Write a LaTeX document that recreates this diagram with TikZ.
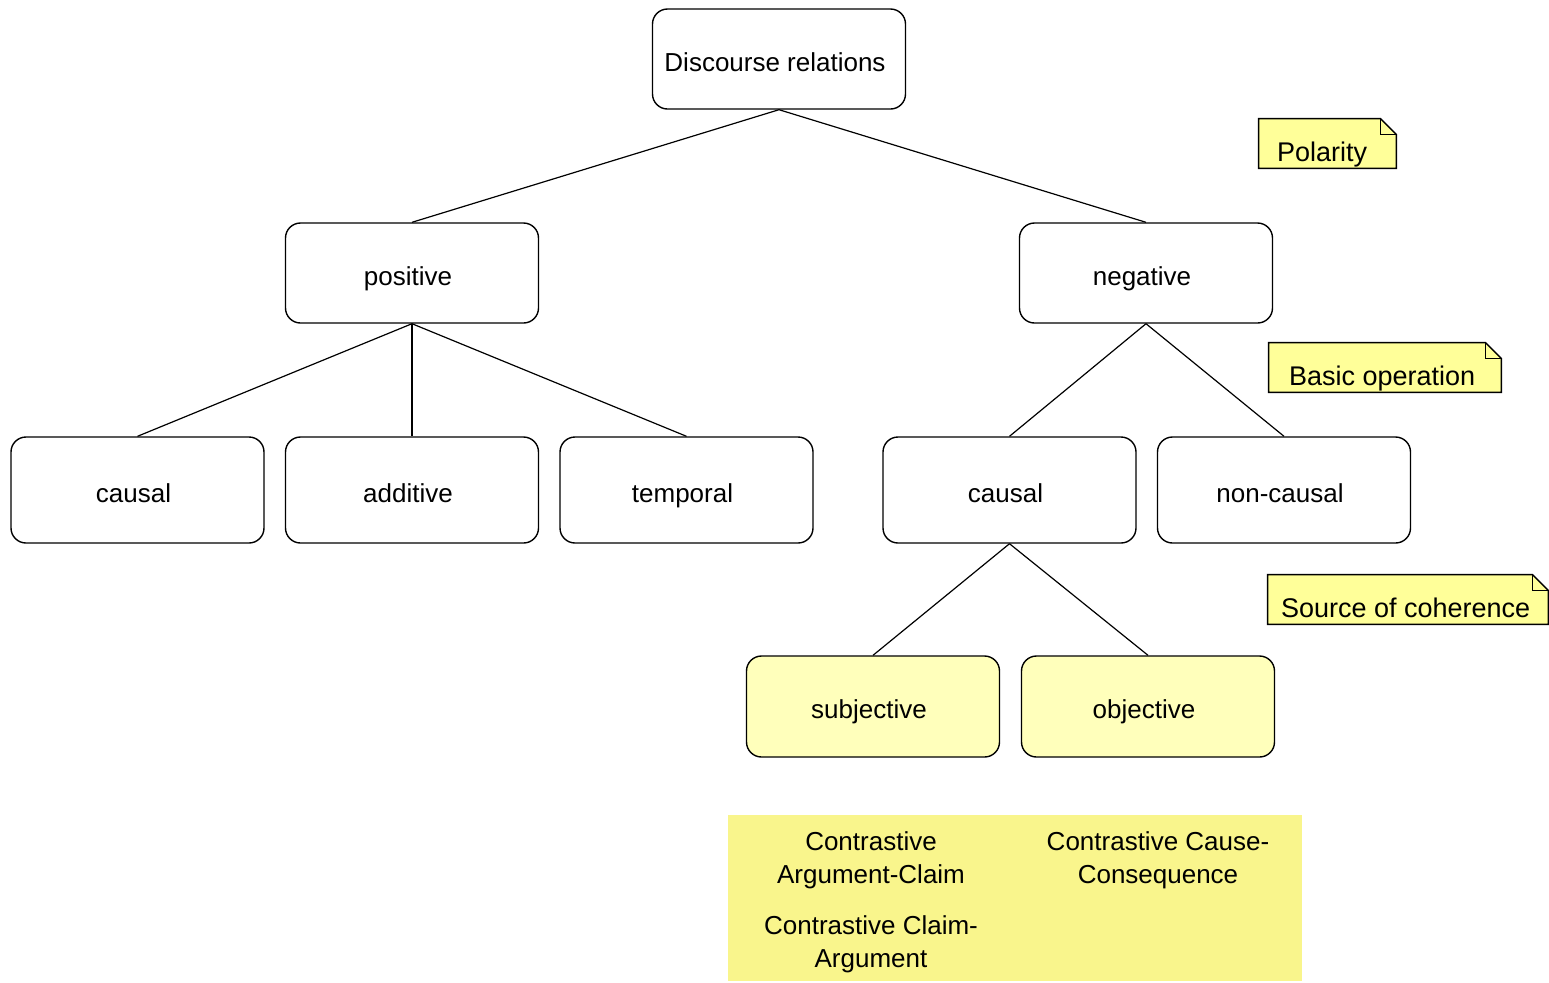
\documentclass[tikz,border=0pt]{standalone}
\usepackage{fontspec}
\setmainfont{Liberation Sans}
\begin{document}
\begin{tikzpicture}[x=0.5pt,y=-0.5pt,
  box/.style={draw, line width=0.7pt, rounded corners=7.5pt, minimum width=126.5pt, inner sep=0pt,
    text height=12.5pt, text depth=0.5pt, execute at end node={\hspace*{4pt}},
    font=\fontsize{13}{16}\selectfont},
  lvA/.style={box, minimum height=50pt},
  lvB/.style={box, minimum height=53pt},
  yel/.style={box, minimum height=50.5pt, fill=subfill},
  edge/.style={line width=0.6pt},
  notearea/.style={inner sep=0pt, minimum height=24.5pt},
  notetext/.style={anchor=base west, inner sep=0pt, font=\fontsize{13.5}{16}\selectfont},
  noteline/.style={draw, line width=0.7pt, fill=notefill},
  ctext/.style={align=center, inner sep=0pt, font=\fontsize{13}{16.5}\selectfont}
]
\definecolor{notefill}{RGB}{255,255,153}
\definecolor{subfill}{RGB}{255,255,187}
\definecolor{rectfill}{RGB}{249,245,140}
\useasboundingbox (0,0) rectangle (1549,982);

% tree nodes
\node[lvA] (root) at (779,59) {Discourse relations};
\node[lvA] (pos) at (412,273) {positive};
\node[lvA] (neg) at (1146,273) {negative};
\node[lvB] (causL) at (137.5,490) {causal};
\node[lvB] (add) at (412,490) {additive};
\node[lvB] (temp) at (686.5,490) {temporal};
\node[lvB] (causR) at (1009.5,490) {causal};
\node[lvB] (noncaus) at (1284,490) {non-causal};
\node[yel] (subj) at (873,706.5) {subjective};
\node[yel] (obj) at (1148,706.5) {objective};

% edges
\draw[edge] (root.south) -- (pos.north);
\draw[edge] (root.south) -- (neg.north);
\draw[edge] (pos.south) -- (causL.north);
\draw[edge] (pos.south) -- (add.north);
\draw[edge] (pos.south) -- (temp.north);
\draw[edge] (neg.south) -- (causR.north);
\draw[edge] (neg.south) -- (noncaus.north);
\draw[edge] (causR.south) -- (subj.north);
\draw[edge] (causR.south) -- (obj.north);

% notes
\node[notearea, minimum width=68.5pt] (n1) at (1327.5,143.5) {};
\node[notearea, minimum width=116pt] (n2) at (1385,367.5) {};
\node[notearea, minimum width=140pt] (n3) at (1408,599.5) {};
\foreach \n in {n1,n2,n3}{
  \path[noteline] (\n.south west) -- (\n.north west) -- ([xshift=-8pt]\n.north east)
    -- ([yshift=-8pt]\n.north east) -- (\n.south east) -- cycle;
  \draw[line width=0.7pt] ([xshift=-8pt]\n.north east) -- ([xshift=-8pt,yshift=-8pt]\n.north east)
    -- ([yshift=-8pt]\n.north east);
}
\node[notetext] (t1) at ([xshift=9pt,yshift=3.5pt]n1.south west) {Polarity};
\node[notetext] (t2) at ([xshift=10pt,yshift=3.5pt]n2.south west) {Basic operation};
\node[notetext] (t3) at ([xshift=6.5pt,yshift=3.5pt]n3.south west) {Source of coherence};

% bottom rectangle
\node[fill=rectfill, inner sep=0pt, minimum width=287pt, minimum height=83pt] (rect) at (1015,898) {};
\node[ctext] (c1) at (871,860) {Contrastive\\Argument-Claim};
\node[ctext] (c2) at (871,944) {Contrastive Claim-\\Argument};
\node[ctext] (c3) at (1158,860) {Contrastive Cause-\\Consequence};
\end{tikzpicture}
\end{document}
